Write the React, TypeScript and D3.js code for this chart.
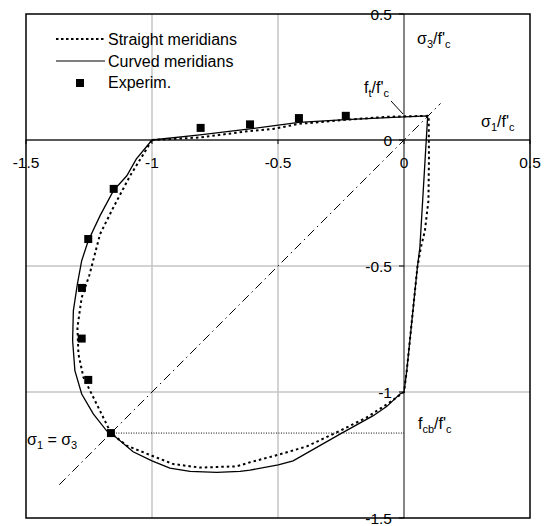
import React from "react";
import * as d3 from "d3";

const xTicks = [-1.5, -1, -0.5, 0, 0.5];
const yTicks = [0.5, 0, -0.5, -1, -1.5];
const xTickLabels = ["-1.5", "-1", "-0.5", "0", "0.5"];
const yTickLabels = ["0.5", "0", "-0.5", "-1", "-1.5"];
const gridValues = [-1, -0.5];

// Curved meridians (solid)
const curvedX = [-1, -0.81, -0.611, -0.417, -0.231, 0, 0.094, 0.063, 0.053, 0.011, 0, -0.016, -0.069, -0.122, -0.254, -0.44, -0.499, -0.611, -0.651, -0.743, -0.849, -0.929, -1.0, -1.075, -1.163, -1.18, -1.233, -1.279, -1.306, -1.315, -1.312, -1.296, -1.279, -1.253, -1.206, -1.153, -1.1, -1.062, -1];
const curvedY = [0, 0.02, 0.044, 0.07, 0.081, 0.092, 0.096, -0.426, -0.506, -0.915, -1, -1.008, -1.058, -1.094, -1.167, -1.273, -1.289, -1.31, -1.315, -1.319, -1.315, -1.302, -1.273, -1.237, -1.163, -1.154, -1.087, -1.008, -0.915, -0.796, -0.677, -0.571, -0.479, -0.4, -0.3, -0.201, -0.142, -0.075, 0];

// Straight meridians (dotted)
const straightX = [-1, -0.81, -0.611, -0.52, -0.417, -0.231, -0.07, 0.098, 0.099, 0.097, 0.083, 0.067, 0.053, 0.011, 0, -0.062, -0.148, -0.254, -0.386, -0.499, -0.611, -0.664, -0.81, -0.915, -1.0, -1.1, -1.163, -1.187, -1.226, -1.272, -1.292, -1.296, -1.279, -1.249, -1.206, -1.153, -1.087, -1.034, -1];
const straightY = [0, 0.01, 0.036, 0.044, 0.064, 0.08, 0.092, 0.096, -0.07, -0.24, -0.36, -0.426, -0.506, -0.915, -1, -1.045, -1.101, -1.154, -1.216, -1.249, -1.279, -1.295, -1.3, -1.286, -1.253, -1.213, -1.163, -1.114, -1.035, -0.942, -0.849, -0.744, -0.625, -0.538, -0.373, -0.267, -0.142, -0.056, 0];

// Experimental points
const expX = [-0.807, -0.611, -0.417, -0.231, -1.152, -1.253, -1.278, -1.279, -1.253, -1.163];
const expY = [0.048, 0.062, 0.087, 0.096, -0.194, -0.393, -0.587, -0.788, -0.952, -1.163];

const diagRange = [-1.368, 0.145];
const fcb = -1.163;

const W = 549, H = 526;
const x = d3.scaleLinear().domain([-1.5, 0.5]).range([26, 530]);
const y = d3.scaleLinear().domain([-1.5, 0.5]).range([518, 14]);

const line = d3.line<[number, number]>().x((d) => x(d[0])).y((d) => y(d[1]));
const curvedPts: [number, number][] = curvedX.map((v, i) => [v, curvedY[i]]);
const straightPts: [number, number][] = straightX.map((v, i) => [v, straightY[i]]);

const FONT = "'Liberation Sans', Arial, Helvetica, sans-serif";

function Sub({ base, sub, rest }: { base: string; sub: string; rest?: React.ReactNode }) {
  return null;
}

export default function App() {
  const x0 = x(0), y0 = y(0);
  return (
    <svg width={W} height={H} style={{ position: "absolute", left: 0, top: 0, background: "#fff" }} fontFamily={FONT}>
      <rect x={0} y={0} width={W} height={H} fill="#fff" />
      {/* grid */}
      {gridValues.map((g) => (
        <g key={"g" + g}>
          <line x1={x(g)} x2={x(g)} y1={y(0.5)} y2={y(-1.5)} stroke="#c4c4c4" strokeWidth={1.5} />
          <line x1={x(-1.5)} x2={x(0.5)} y1={y(g)} y2={y(g)} stroke="#c4c4c4" strokeWidth={1.5} />
        </g>
      ))}
      {/* axes through origin */}
      <line x1={x0} x2={x0} y1={y(0.5)} y2={y(-1.5)} stroke="#333" strokeWidth={1.2} />
      <line x1={x(-1.5)} x2={x(0.5)} y1={y0} y2={y0} stroke="#222" strokeWidth={1.4} />
      {/* frame */}
      <rect x={x(-1.5)} y={y(0.5)} width={x(0.5) - x(-1.5)} height={y(-1.5) - y(0.5)} fill="none" stroke="#000" strokeWidth={1.5} />
      {/* ticks */}
      {xTicks.map((t) => (
        <line key={"xt" + t} x1={x(t)} x2={x(t)} y1={y0} y2={y0 + 4} stroke="#000" />
      ))}
      {yTicks.map((t) => (
        <line key={"yt" + t} x1={x0 - 5} x2={x0} y1={y(t)} y2={y(t)} stroke="#000" />
      ))}
      {xTicks.map((t, i) => (
        <text key={"xl" + t} x={x(t)} y={y0 + 28} textAnchor="middle" fontSize={15.5} fill="#000">
          {xTickLabels[i]}
        </text>
      ))}
      {yTicks.map((t, i) => (
        <text key={"yl" + t} x={x0 - 12} y={y(t) + 5.5} textAnchor="end" fontSize={15.5} fill="#000">
          {yTickLabels[i]}
        </text>
      ))}
      {/* diagonal sigma1 = sigma3 */}
      <line x1={x(diagRange[0])} y1={y(diagRange[0])} x2={x(diagRange[1])} y2={y(diagRange[1])} stroke="#000" strokeWidth={1} strokeDasharray="9,4,1.5,4" />
      {/* fcb dotted line */}
      <line x1={x(fcb)} x2={x0} y1={y(fcb)} y2={y(fcb)} stroke="#000" strokeWidth={1} strokeDasharray="1,1.5" />
      {/* curves */}
      <path d={line(straightPts) || ""} fill="none" stroke="#000" strokeWidth={2} strokeDasharray="2.5,3" />
      <path d={line(curvedPts) || ""} fill="none" stroke="#000" strokeWidth={1.3} />
      {/* experimental */}
      {expX.map((v, i) => (
        <rect key={"e" + i} x={x(v) - 4} y={y(expY[i]) - 4} width={8} height={8} fill="#000" />
      ))}
      {/* legend */}
      <line x1={56} x2={105} y1={39} y2={39} stroke="#000" strokeWidth={2} strokeDasharray="2.5,2.5" />
      <text x={108} y={45} fontSize={16}>Straight meridians</text>
      <line x1={56} x2={105} y1={61} y2={61} stroke="#000" strokeWidth={1.2} />
      <text x={108} y={66.5} fontSize={16}>Curved meridians</text>
      <rect x={76} y={79} width={8} height={8} fill="#000" />
      <text x={108} y={87.5} fontSize={16}>Experim.</text>
      {/* axis titles */}
      <text x={417} y={44} fontSize={16}>
        σ<tspan fontSize={11} dy={4}>3</tspan><tspan dy={-4}>/f'</tspan><tspan fontSize={11} dy={4}>c</tspan>
      </text>
      <text x={481} y={127} fontSize={16}>
        σ<tspan fontSize={11} dy={4}>1</tspan><tspan dy={-4}>/f'</tspan><tspan fontSize={11} dy={4}>c</tspan>
      </text>
      <text x={364} y={93} fontSize={16}>
        f<tspan fontSize={11} dy={4}>t</tspan><tspan dy={-4}>/f'</tspan><tspan fontSize={11} dy={4}>c</tspan>
      </text>
      <line x1={391} y1={101} x2={403} y2={114} stroke="#000" strokeWidth={1} />
      <text x={418} y={429} fontSize={16}>
        f<tspan fontSize={11} dy={4}>cb</tspan><tspan dy={-4}>/f'</tspan><tspan fontSize={11} dy={4}>c</tspan>
      </text>
      <text x={27} y={445} fontSize={16}>
        σ<tspan fontSize={11} dy={4}>1</tspan><tspan dy={-4}> = σ</tspan><tspan fontSize={11} dy={4}>3</tspan>
      </text>
    </svg>
  );
}
